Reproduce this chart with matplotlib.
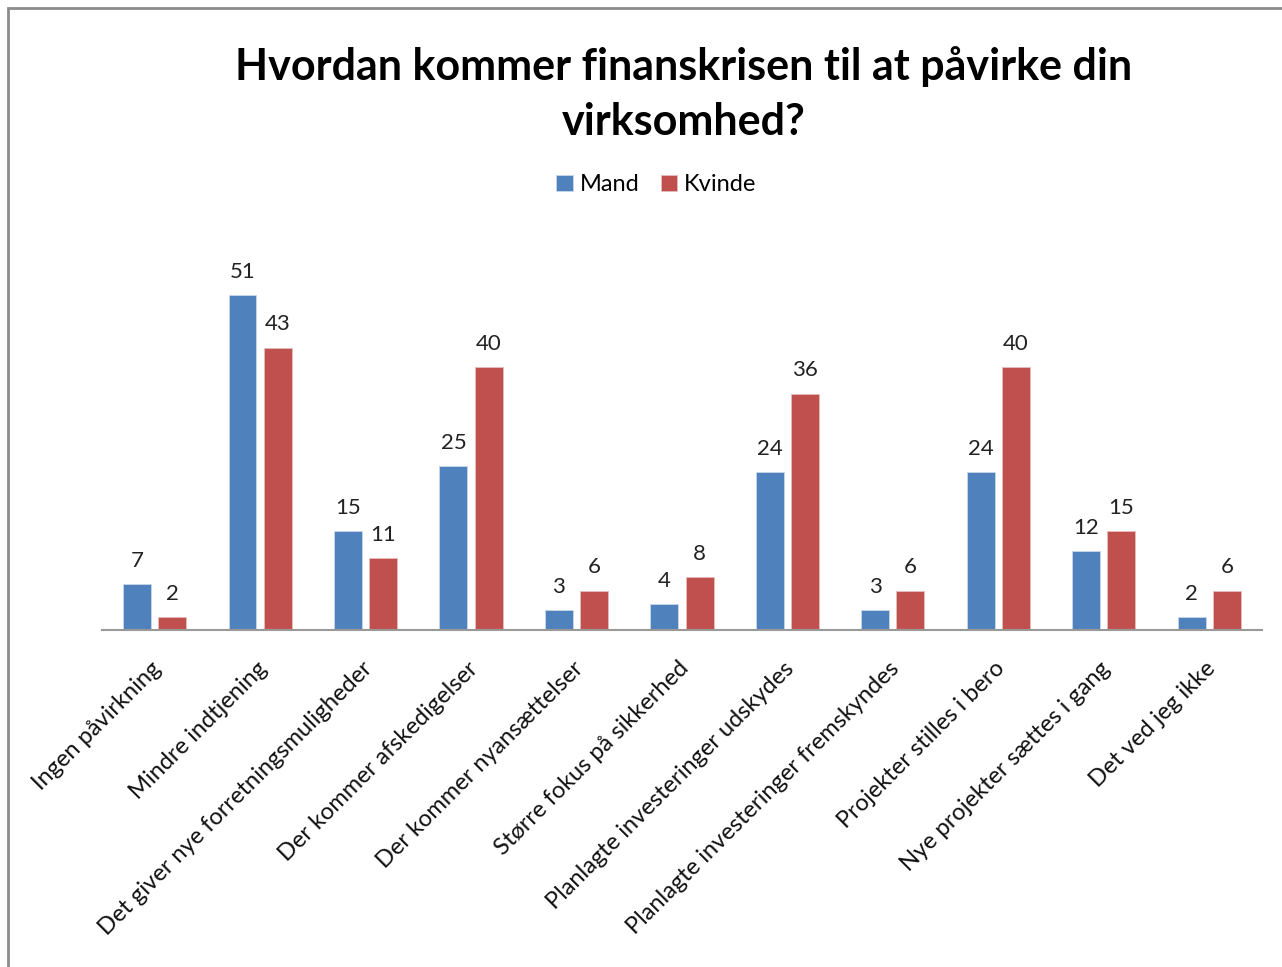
import numpy as np
import matplotlib.pyplot as plt
from matplotlib.patches import Rectangle

plt.rcParams['font.family'] = ['Lato', 'DejaVu Sans']

# Data
categories = ['Ingen påvirkning', 'Mindre indtjening', 'Det giver nye forretningsmuligheder',
              'Der kommer afskedigelser', 'Der kommer nyansættelser', 'Større fokus på sikkerhed',
              'Planlagte investeringer udskydes', 'Planlagte investeringer fremskyndes',
              'Projekter stilles i bero', 'Nye projekter sættes i gang', 'Det ved jeg ikke']
mand = [7, 51, 15, 25, 3, 4, 24, 3, 24, 12, 2]
kvinde = [2, 43, 11, 40, 6, 8, 36, 6, 40, 15, 6]

blue = '#4F81BD'
red = '#C0504D'

fig = plt.figure(figsize=(12.82, 9.67), dpi=100)
ax = fig.add_axes([0.0796, 0.3485, 0.9048, 0.4075])

x = np.arange(len(categories))
w = 0.265
b1 = ax.bar(x - 0.168, mand, w, color=blue, edgecolor='#c9d6e8', linewidth=0.6, label='Mand')
b2 = ax.bar(x + 0.166, kvinde, w, color=red, edgecolor='#e6bcbb', linewidth=0.6, label='Kvinde')

for bars in (b1, b2):
    for rect in bars:
        h = rect.get_height()
        ax.text(rect.get_x() + rect.get_width() / 2, h + 2.0, f'{int(h)}',
                ha='center', va='bottom', fontsize=16, color='#222222')

ax.set_xlim(-0.5, len(categories) - 0.5)
ax.set_ylim(0, 60)
ax.set_xticks(x - 0.04)
ax.set_xticklabels(categories, rotation=45, ha='right', rotation_mode='anchor',
                   fontsize=17, color='#111111')
ax.tick_params(axis='x', length=0, pad=20)
ax.set_yticks([])
for s in ['top', 'right', 'left']:
    ax.spines[s].set_visible(False)
ax.spines['bottom'].set_color('#999999')
ax.spines['bottom'].set_linewidth(1.5)

fig.text(0.533, 0.903, 'Hvordan kommer finanskrisen til at påvirke din\nvirksomhed?',
         ha='center', va='center', fontsize=31, fontweight='bold', linespacing=1.45)

fig.legend(handles=[b1, b2], labels=['Mand', 'Kvinde'], loc='center',
           bbox_to_anchor=(0.512, 0.809), ncol=2, frameon=False, fontsize=17,
           handlelength=0.7, handleheight=0.7, handletextpad=0.3, columnspacing=0.9)

# chart border
fig.patches.append(Rectangle((8 / 1282, -0.1), 1.2, 1 - 8 / 967 + 0.1,
                             transform=fig.transFigure, fill=False,
                             edgecolor='#8c8c8c', linewidth=2))

fig.savefig('out.png', dpi=100)
